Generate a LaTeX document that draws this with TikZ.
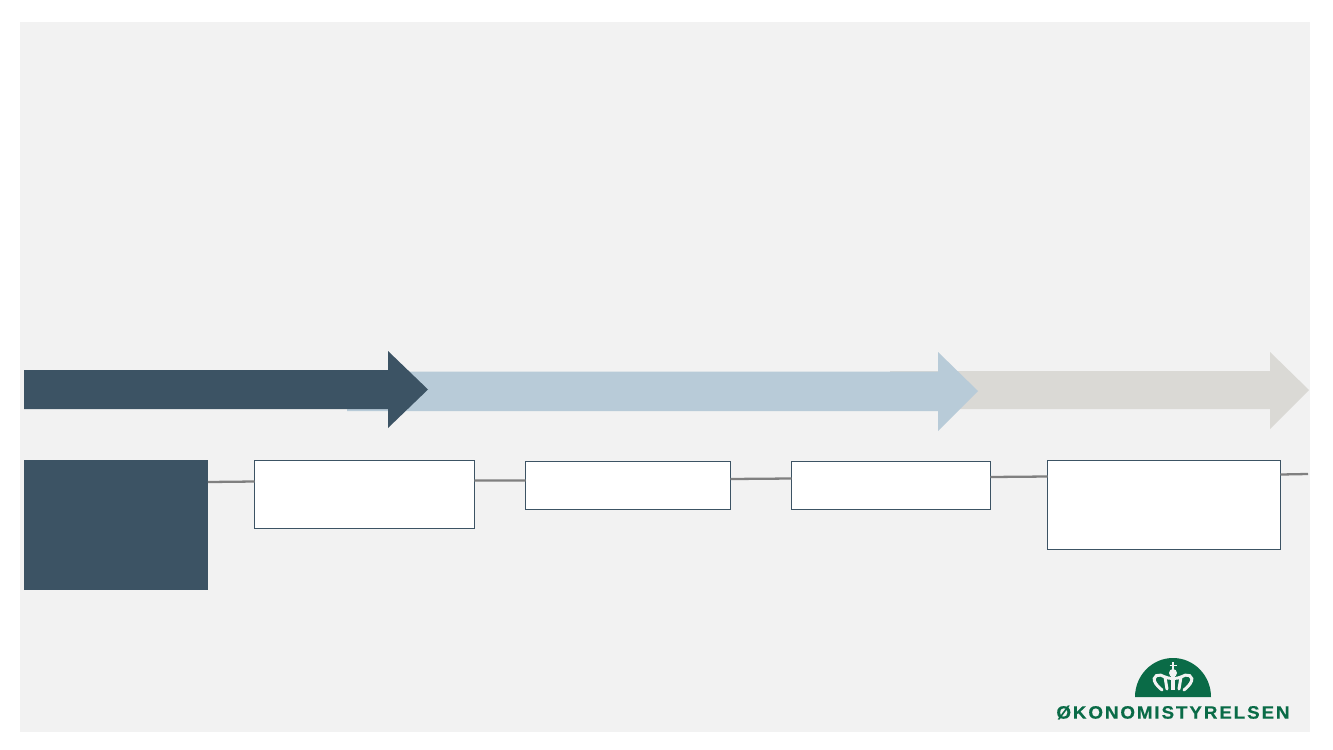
\documentclass[tikz,border=0pt]{standalone}
\usepackage{fontspec}
\usepackage{xcolor}
\usetikzlibrary{calc}
\newfontfamily\logofont[LetterSpace=10.5,FakeStretch=1.05,FakeBold=0.3]{Liberation Sans Bold}
\definecolor{panelgrey}{HTML}{F2F2F2}
\definecolor{darkblue}{HTML}{3C5364}
\definecolor{lightblue}{HTML}{B8CBD8}
\definecolor{stone}{HTML}{DAD9D5}
\definecolor{linegrey}{HTML}{808080}
\definecolor{logogreen}{HTML}{0A6B47}

\begin{document}
\begin{tikzpicture}[
  x=0.02cm, y=-0.02cm,
  phase/.style={draw=darkblue, line width=0.4pt, fill=white, outer sep=0pt, inner sep=0pt},
  start/.style={fill=darkblue, outer sep=0pt, inner sep=0pt},
  link/.style={draw=linegrey, line width=1.3pt},
  crown/.style={draw=panelgrey, line width=1.7pt, line cap=round}
]
\useasboundingbox (0,0) rectangle (1333,750);
\fill[white] (0,0) rectangle (1333,750);
\fill[panelgrey] (20,22) rectangle (1310,732);

\fill[stone] (890,371) -- (1270,371) -- (1270,352) -- (1309,390) -- (1270,429) -- (1270,409) -- (890,409) -- cycle;
\fill[lightblue] (347,371.5) -- (938,371.5) -- (938,352) -- (978,391) -- (938,431) -- (938,411) -- (347,411) -- cycle;
\fill[darkblue] (24,370) -- (388,370) -- (388,351) -- (428,389.5) -- (388,428) -- (388,409) -- (24,409) -- cycle;

\node[start, minimum width=3.68cm, minimum height=2.6cm] (lead) at (116,525) {};
\node[phase, minimum width=4.40cm, minimum height=1.36cm] (one) at (364.5,494.5) {};
\node[phase, minimum width=4.10cm, minimum height=0.96cm] (two) at (628,485.5) {};
\node[phase, minimum width=3.98cm, minimum height=0.96cm] (three) at (891,485.5) {};
\node[phase, minimum width=4.66cm, minimum height=1.78cm] (four) at (1164,505) {};
\coordinate (end) at (1308,474);

\draw[link] ($(lead.north east)+(0,22)$) -- ($(one.north west)+(0,21)$);
\draw[link] ($(one.north east)+(0,20)$) -- ($(two.north west)+(0,19)$);
\draw[link] ($(two.north east)+(0,17.5)$) -- ($(three.north west)+(0,17)$);
\draw[link] ($(three.north east)+(0,15.5)$) -- ($(four.north west)+(0,16)$);
\draw[link] ($(four.north east)+(0,14)$) -- (end);

\fill[logogreen] (1135,697) arc[start angle=180, end angle=0, x radius=38, y radius=-39] -- cycle;
\draw[crown] (1156,684) .. controls (1150,675) and (1160,673) .. (1165,677) .. controls (1169,679) and (1177,679) .. (1181,677) .. controls (1186,673) and (1196,675) .. (1190,684);
\draw[crown] (1156,684) .. controls (1158,687) and (1160,688) .. (1162,690);
\draw[crown] (1190,684) .. controls (1188,687) and (1186,688) .. (1184,690);
\draw[crown] (1165,677) -- (1167,689);
\draw[crown] (1181,677) -- (1179,689);
\draw[crown, line width=2.4pt, line cap=butt] (1173,673) -- (1173,690);
\fill[panelgrey] (1173,673) circle[radius=4];
\draw[crown, line width=1pt, line cap=butt] (1173,662) -- (1173,670) (1169.5,665.5) -- (1176.5,665.5);

\node[text=logogreen, inner sep=0pt, font=\logofont\fontsize{10.2}{10.2}\selectfont] (logo) at (1173,712.5) {ØKONOMISTYRELSEN};
\end{tikzpicture}
\end{document}
